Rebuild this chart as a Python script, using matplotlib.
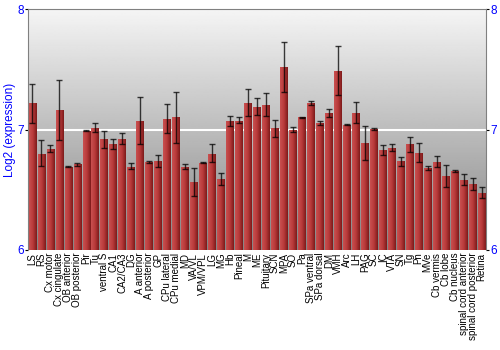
import matplotlib
matplotlib.use('Agg')
import matplotlib.pyplot as plt
import numpy as np
from matplotlib.colors import LinearSegmentedColormap

plt.rcParams['font.family'] = ['Liberation Sans', 'DejaVu Sans']

# regions (x axis)
regions = ['LS', 'RS', 'Cx motor', 'Cx cingulate', 'OB anterior', 'OB posterior',
           'Pir', 'Tu', 'ventral S', 'CA1', 'CA2/CA3', 'DG', 'A anterior',
           'A posterior', 'GP', 'CPu lateral', 'CPu medial', 'MD', 'VA/VL',
           'VPM/VPL', 'LG', 'MG', 'Hb', 'Pineal', 'M', 'ME', 'Pituitary', 'SCN',
           'MPA', 'SO', 'Pa', 'SPa ventral', 'SPa dorsal', 'DM', 'VMH', 'Arc',
           'LH', 'PAG', 'SC', 'IC', 'VTA', 'SN', 'Tg', 'Pn', 'MVe', 'Cb vermis',
           'Cb lobe', 'Cb nucleus', 'spinal cord anterior', 'spinal cord posterior',
           'Retina']

# log2 expression (mean)
expr = [7.22, 6.80, 6.84, 7.16, 6.69, 6.71, 6.99, 7.01, 6.92, 6.88, 6.925, 6.69,
        7.07, 6.73, 6.74, 7.09, 7.10, 6.69, 6.56, 6.725, 6.80, 6.59, 7.07, 7.07,
        7.22, 7.19, 7.205, 7.01, 7.52, 7.00, 7.10, 7.22, 7.055, 7.135, 7.49, 7.04,
        7.135, 6.89, 7.005, 6.83, 6.85, 6.74, 6.88, 6.805, 6.68, 6.73, 6.61, 6.655,
        6.58, 6.55, 6.475]

# error bar ends
err_low = [7.05, 6.70, 6.81, 6.91, 6.685, 6.70, 6.985, 6.98, 6.85, 6.84, 6.88, 6.67,
           6.88, 6.725, 6.69, 6.97, 6.89, 6.67, 6.45, 6.72, 6.73, 6.54, 7.03, 7.05,
           7.11, 7.12, 7.11, 6.94, 7.31, 6.98, 7.095, 7.20, 7.04, 7.10, 7.29, 7.035,
           7.05, 6.75, 6.995, 6.79, 6.82, 6.70, 6.81, 6.73, 6.66, 6.69, 6.52, 6.645,
           6.54, 6.50, 6.43]
err_high = [7.38, 6.91, 6.87, 7.41, 6.695, 6.72, 6.995, 7.05, 6.99, 6.92, 6.97, 6.72,
            7.27, 6.735, 6.79, 7.21, 7.31, 6.71, 6.68, 6.73, 6.88, 6.64, 7.11, 7.10,
            7.34, 7.26, 7.30, 7.08, 7.73, 7.02, 7.105, 7.24, 7.07, 7.17, 7.69, 7.045,
            7.225, 7.03, 7.015, 6.87, 6.88, 6.77, 6.94, 6.89, 6.70, 6.78, 6.705, 6.665,
            6.63, 6.60, 6.52]

x = np.arange(len(regions))
y = np.array(expr)
yerr = [y - np.array(err_low), np.array(err_high) - y]

fig = plt.figure(figsize=(5, 3.5), dpi=100)
ax = fig.add_axes([0.056, 0.286, 0.916, 0.688])

ymin, ymax = 6, 8
ax.set_xlim(-0.5, len(regions) - 0.5)
ax.set_ylim(ymin, ymax)

# fondo degradado gris
grad = np.linspace(0.96, 0.52, 256)[:, None]
ax.imshow(grad, cmap='gray', vmin=0, vmax=1, aspect='auto',
          extent=[-0.5, len(regions) - 0.5, ymin, ymax], zorder=0)
ax.axhline(7, color='white', lw=1.5, zorder=1)

# barras con degradado horizontal
bar_cmap = LinearSegmentedColormap.from_list('barra', ['#c95050', '#b83a3a', '#7e1a1a'])
w = 0.86
bars = ax.bar(x, y - ymin, bottom=ymin, width=w, color='#b03535', zorder=2)
hgrad = np.linspace(0, 1, 32)[None, :]
for b in bars:
    x0 = b.get_x()
    im = ax.imshow(hgrad, cmap=bar_cmap, aspect='auto', zorder=2.5,
                   extent=[x0, x0 + b.get_width(), ymin, ymin + b.get_height()])
    im.set_clip_path(b)

ax.errorbar(x, y, yerr=yerr, fmt='none', ecolor='black', elinewidth=1,
            capsize=2.4, capthick=1, alpha=0.75, zorder=3)

ax.set_xticks(x)
ax.set_xticklabels(regions, rotation=90, fontsize=7.0)
ax.tick_params(axis='x', length=0, pad=2)

ax.set_yticks([6, 7, 8])
ax.tick_params(axis='y', labelcolor='blue', labelsize=8.5, length=2,
               right=True, labelright=True, pad=1)
ax.set_ylabel('Log2 (expression)', color='blue', fontsize=8.5, labelpad=1)

for s in ['left', 'right', 'top', 'bottom']:
    ax.spines[s].set_color('#808080')
ax.spines['bottom'].set_visible(False)

fig.savefig('out.png', dpi=100)
